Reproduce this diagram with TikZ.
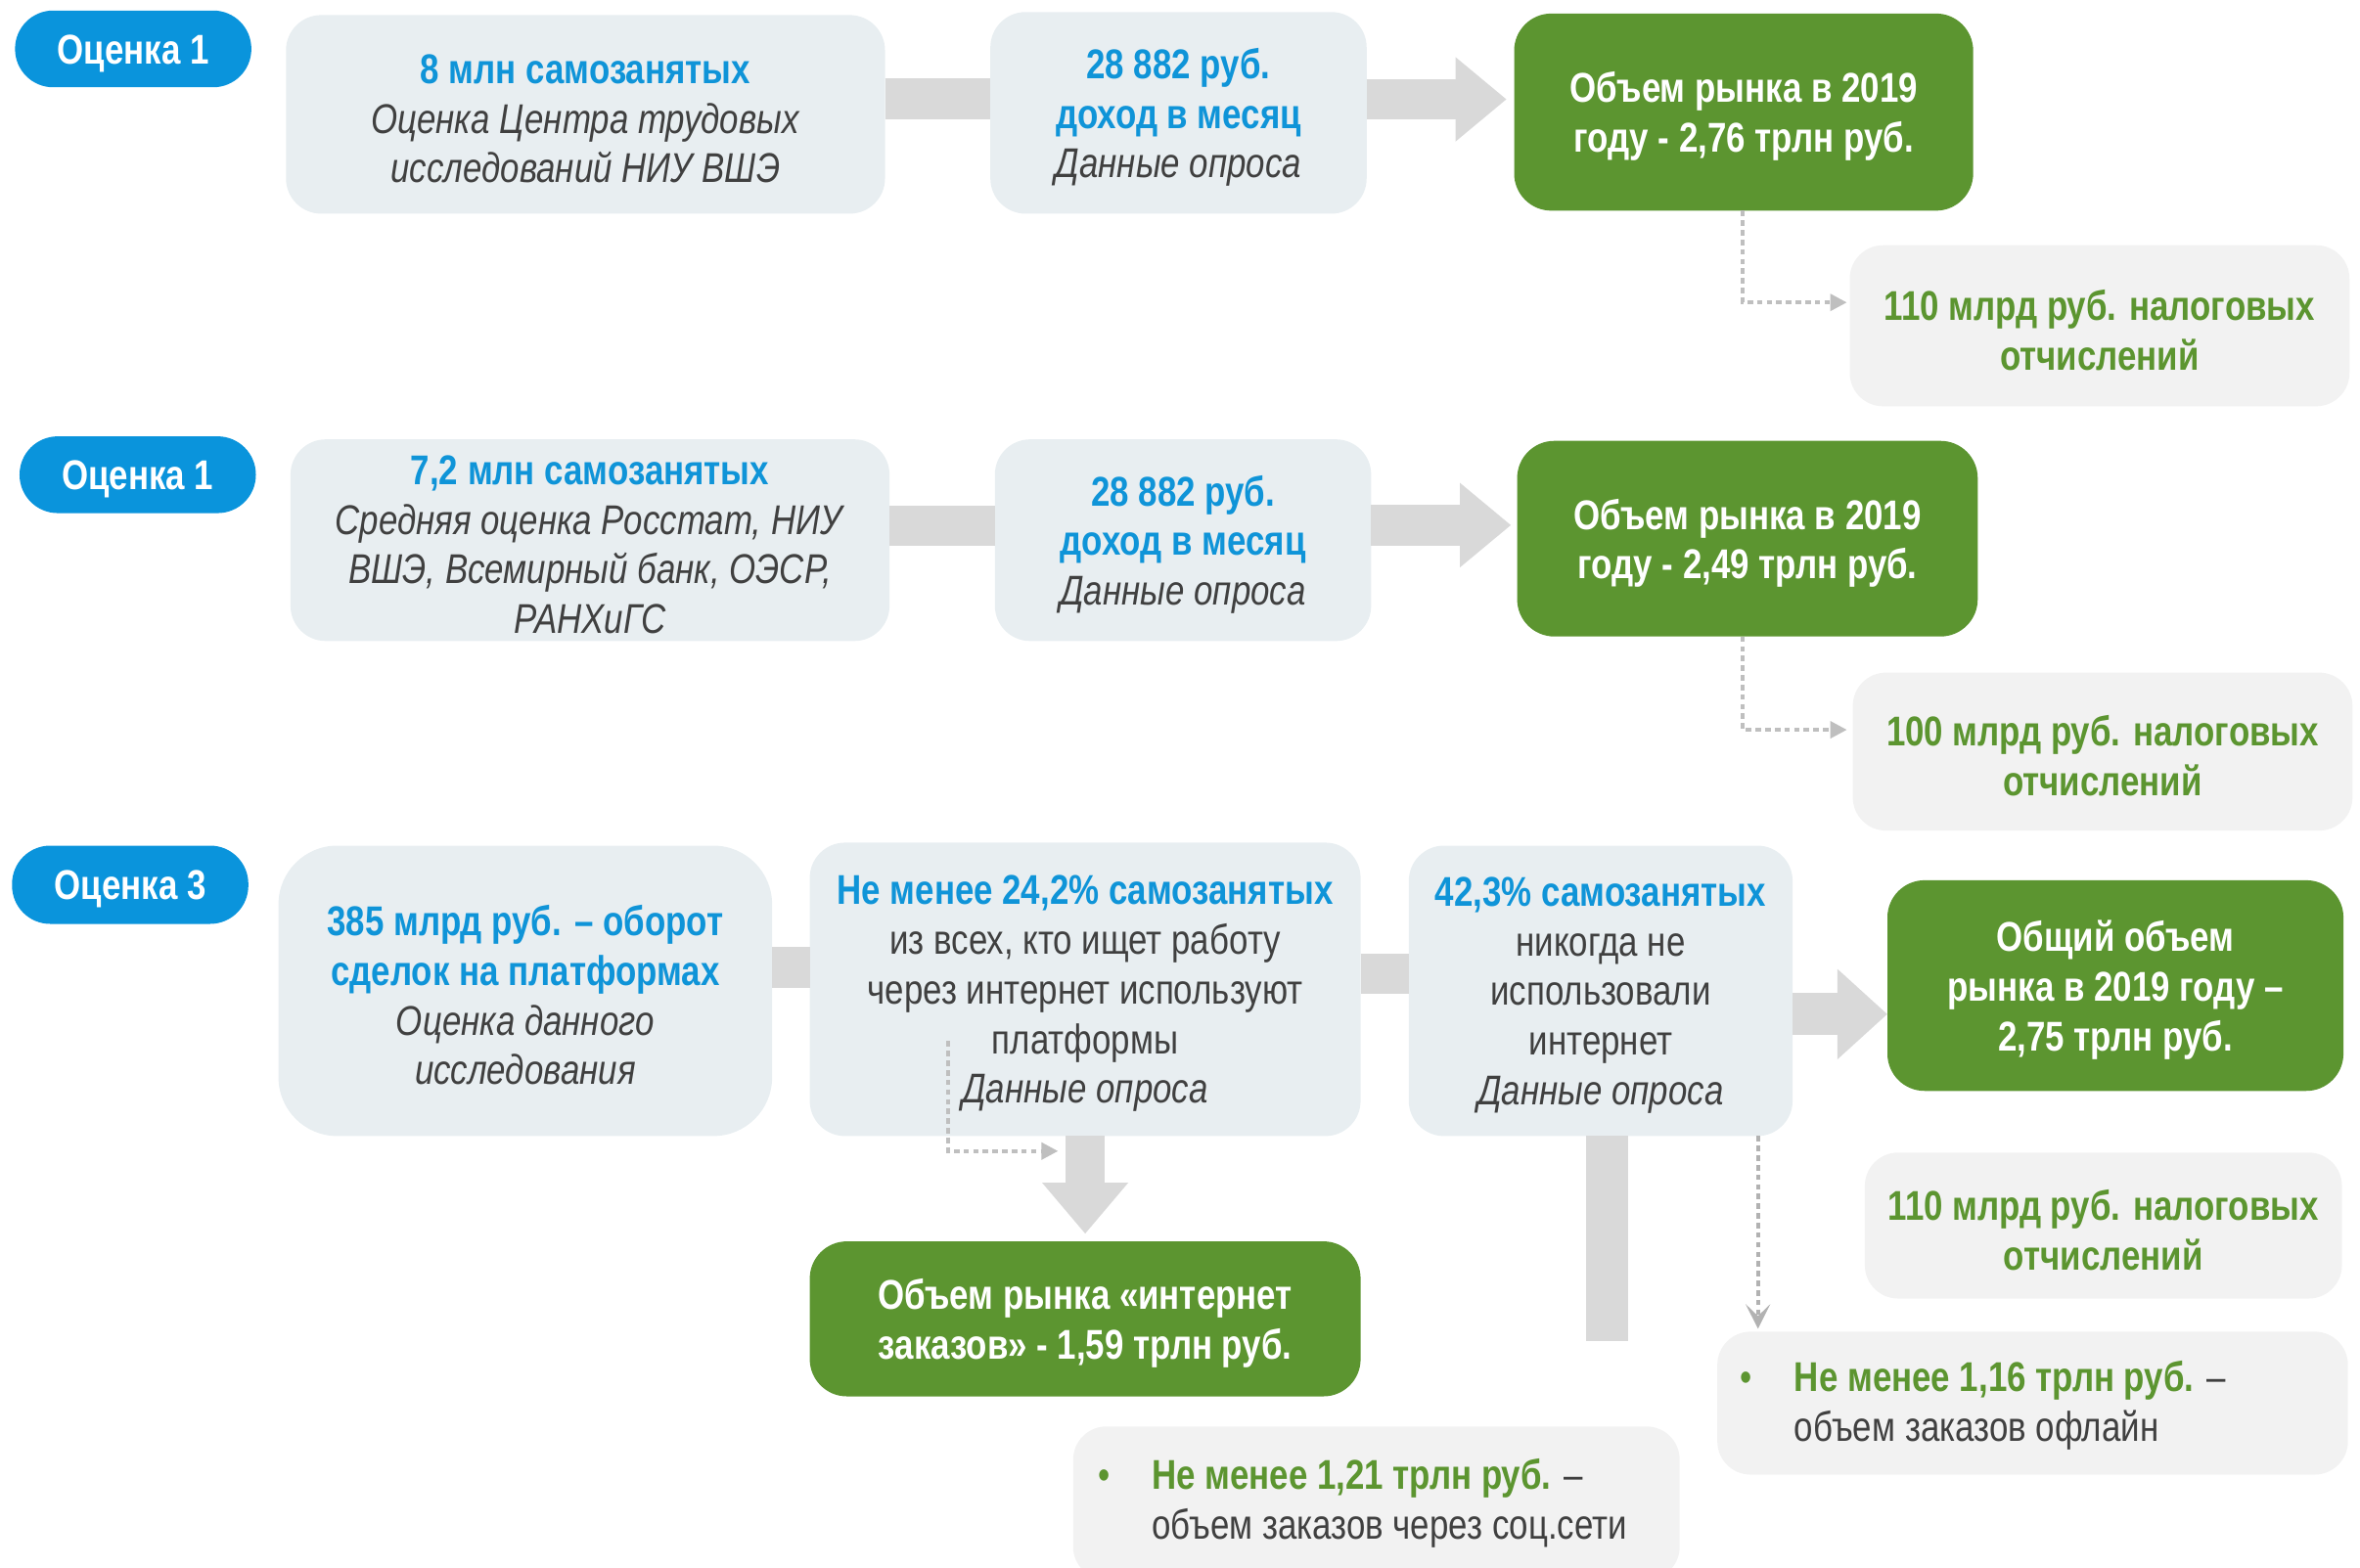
\documentclass[tikz,border=0pt]{standalone}
\usepackage{fontspec}
\setmainfont{Liberation Sans}[FakeStretch=0.82]
\usetikzlibrary{fit,arrows.meta}
\definecolor{pillblue}{HTML}{0A94DC}
\definecolor{txtblue}{HTML}{0F94D8}
\definecolor{boxA}{HTML}{E8EEF1}
\definecolor{boxB}{HTML}{F2F2F2}
\definecolor{grn}{HTML}{5C9530}
\definecolor{conn}{HTML}{D9D9D9}
\definecolor{dark}{HTML}{404040}
\definecolor{dotc}{HTML}{BFBFBF}
\newcommand\fs{\fontsize{12.1pt}{14.44pt}\selectfont}
\newcommand\hl[1]{\textcolor{txtblue}{\bfseries #1}}
\newcommand\src[1]{\textit{#1}}
\newcommand\gtx[1]{\textcolor{grn}{\bfseries #1}}
\begin{document}
\begin{tikzpicture}[x=0.015383cm, y=-0.015383cm,
  base/.style={inner sep=0pt, outer sep=0pt},
  pill/.style={base, fill=pillblue, rounded corners=0.39cm},
  info/.style={base, fill=boxA, rounded corners=0.36cm},
  gbox/.style={base, fill=grn, rounded corners=0.38cm},
  tbox/.style={base, fill=boxB, rounded corners=0.34cm},
  txt/.style={inner sep=0pt, align=center, font=\fs, text=dark, yshift=-0.045cm},
  wtxt/.style={txt, text=white, font=\fs\bfseries},
  ltxt/.style={inner sep=0pt, align=left, font=\fs, text=dark, anchor=west},
  bar/.style={draw=conn, line width=0.415cm},
  bigarrow/.style={draw=conn, line width=0.415cm, -{Triangle[length=0.523cm, width=0.83cm]}},
  dotline/.style={draw=dotc, line width=1.05pt, dash pattern=on 1.6pt off 1.2pt},
  smalltip/.style={-{Triangle[length=0.17cm, width=0.17cm]}},
  chevtip/.style={-{Stealth[length=0.25cm, width=0.25cm, inset=0.12cm]}}
]
\useasboundingbox (0,0) rectangle (1568,1042);

% ---------- Row 1 ----------
\node[pill, fit={(10,7) (167,58)}] (p1) {};
\node[wtxt] (p1t) at (p1) {Оценка 1};
\node[info, fit={(190,10) (588,142)}] (a1) {};
\node[txt] (a1t) at (a1) {\hl{8 млн самозанятых}\\ \src{Оценка Центра трудовых}\\ \src{исследований НИУ ВШЭ}};
\node[info, fit={(658,8) (908,142)}] (b1) {};
\node[txt] (b1t) at (b1) {\hl{28 882 руб.}\\ \hl{доход в месяц}\\ \src{Данные опроса}};
\node[gbox, fit={(1006,9) (1311,140)}] (c1) {};
\node[wtxt] (c1t) at (c1) {Объем рынка в 2019\\ году - 2,76 трлн руб.};
\node[tbox, fit={(1229,163) (1561,270)}] (d1) {};
\node[txt] (d1t) at (d1) {\gtx{110 млрд руб. налоговых}\\ \gtx{отчислений}};

\draw[bar] (a1.east |- 0,65.5) -- (b1.west |- 0,65.5);
\draw[bigarrow, shorten >=0.077cm] (b1.east |- 0,66) -- (c1.west |- 0,66);
\draw[dotline, smalltip, shorten >=0.03cm] (c1.south -| 1158,0) |- (d1.west |- 0,201);

% ---------- Row 2 ----------
\node[pill, fit={(13,290) (170,341)}] (p2) {};
\node[wtxt] (p2t) at (p2) {Оценка 1};
\node[info, fit={(193,292) (591,426)}] (a2) {};
\node[txt] (a2t) at (a2) {\hl{7,2 млн самозанятых}\\ \src{Средняя оценка Росстат, НИУ}\\ \src{ВШЭ, Всемирный банк, ОЭСР,}\\ \src{РАНХиГС}};
\node[info, fit={(661,292) (911,426)}] (b2) {};
\node[txt] (b2t) at (b2) {\hl{28 882 руб.}\\ \hl{доход в месяц}\\ \src{Данные опроса}};
\node[gbox, fit={(1008,293) (1314,423)}] (c2) {};
\node[wtxt] (c2t) at (c2) {Объем рынка в 2019\\ году - 2,49 трлн руб.};
\node[tbox, fit={(1231,447) (1563,552)}] (d2) {};
\node[txt] (d2t) at (d2) {\gtx{100 млрд руб. налоговых}\\ \gtx{отчислений}};

\draw[bar] (a2.east |- 0,349.5) -- (b2.west |- 0,349.5);
\draw[bigarrow, shorten >=0.062cm] (b2.east |- 0,349) -- (c2.west |- 0,349);
\draw[dotline, smalltip, shorten >=0.06cm] (c2.south -| 1158,0) |- (d2.west |- 0,485);

% ---------- Row 3 ----------
\node[pill, fit={(8,562) (165,614)}] (p3) {};
\node[wtxt] (p3t) at (p3) {Оценка 3};
\node[info, rounded corners=0.6cm, fit={(185,562) (513,755)}] (a3) {};
\node[txt] (a3t) at (a3) {\hl{385 млрд руб. – оборот}\\ \hl{сделок на платформах}\\ \src{Оценка данного}\\ \src{исследования}};
\node[info, fit={(538,560) (904,755)}] (b3) {};
\node[txt] (b3t) at (b3) {\hl{Не менее 24,2\% самозанятых}\\ из всех, кто ищет работу\\ через интернет используют\\ платформы\\ \src{Данные опроса}};
\node[info, fit={(936,562) (1191,755)}] (c3) {};
\node[txt] (c3t) at (c3) {\hl{42,3\% самозанятых}\\ никогда не\\ использовали\\ интернет\\ \src{Данные опроса}};
\node[gbox, fit={(1254,585) (1557,725)}] (d3) {};
\node[wtxt] (d3t) at (d3) {Общий объем\\ рынка в 2019 году –\\ 2,75 трлн руб.};
\node[gbox, fit={(538,825) (904,928)}] (e3) {};
\node[wtxt] (e3t) at (e3) {Объем рынка «интернет\\ заказов» - 1,59 трлн руб.};
\node[tbox, fit={(1239,766) (1556,863)}] (f3) {};
\node[txt] (f3t) at (f3) {\gtx{110 млрд руб. налоговых}\\ \gtx{отчислений}};
\node[tbox, fit={(1141,885) (1560,980)}] (g3) {};
\node[ltxt] (g3t) at (1156,934)
  {\makebox[0.55cm][l]{\textcolor{grn}{•}}\gtx{Не менее 1,16 трлн руб.} –\\ \hspace*{0.55cm}объем заказов офлайн};
\node[tbox, fit={(713,948) (1116,1050)}] (h3) {};
\node[ltxt] (h3t) at (729,999)
  {\makebox[0.55cm][l]{\textcolor{grn}{•}}\gtx{Не менее 1,21 трлн руб.} –\\ \hspace*{0.55cm}объем заказов через соц.сети};

\draw[bar] (a3.east |- 0,643) -- (b3.west |- 0,643);
\draw[bar] (b3.east |- 0,647) -- (c3.west |- 0,647);
\draw[bigarrow, line width=0.43cm, -{Triangle[length=0.51cm, width=0.89cm]}] (c3.east |- 0,674) -- (d3.west |- 0,674);
\draw[bigarrow, line width=0.4cm, -{Triangle[length=0.523cm, width=0.846cm]}, shorten >=0.077cm] (b3.south) -- (e3.north);
\coordinate (c3end) at (1068,891);
\draw[bar, line width=0.43cm] (c3.south -| c3end) -- (c3end);
\draw[dotline, draw=black!30, chevtip, shorten >=0.03cm] (c3.south -| 1168,0) -- (g3.north -| 1168,0);
\coordinate (b3dot) at (630,692);
\coordinate (b3dotend) at (703,765);
\draw[dotline, smalltip] (b3dot) |- (b3dotend);
\end{tikzpicture}
\end{document}
